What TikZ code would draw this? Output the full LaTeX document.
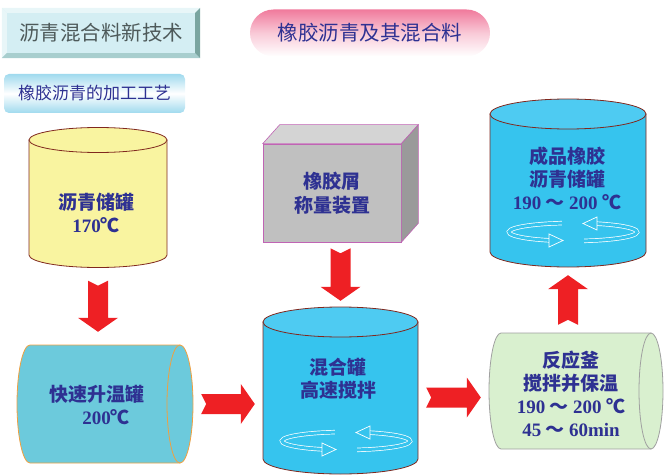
\documentclass[tikz,border=0pt]{standalone}
\usepackage{fontspec}
\setmainfont{Noto Sans CJK SC}
\newfontfamily\numfont{Liberation Serif}
\usetikzlibrary{calc, positioning}

\definecolor{textblue}{RGB}{46,49,146}
\definecolor{titlegray}{RGB}{78,90,90}
\definecolor{arrowred}{RGB}{238,32,36}
\definecolor{tankyellow}{RGB}{249,244,160}
\definecolor{tankedge}{RGB}{128,40,30}
\definecolor{tankblue}{RGB}{54,196,238}
\definecolor{tanktop}{RGB}{78,203,242}
\definecolor{heaterblue}{RGB}{108,202,220}
\definecolor{heateredge}{RGB}{240,160,64}
\definecolor{reactorgreen}{RGB}{217,240,207}
\definecolor{reactoredge}{RGB}{160,160,160}
\definecolor{boxfront}{RGB}{192,192,192}
\definecolor{boxtop}{RGB}{212,212,212}
\definecolor{boxside}{RGB}{154,154,154}
\definecolor{boxedge}{RGB}{192,100,180}
\definecolor{titlecyan}{RGB}{212,238,243}
\definecolor{bevellight}{RGB}{232,246,248}
\definecolor{beveldark}{RGB}{122,165,160}
\definecolor{bevelbottom}{RGB}{168,206,206}
\definecolor{capsulepink}{RGB}{240,122,156}
\definecolor{ribboncyan}{RGB}{160,218,238}

% upright tank: name, x, top y, bottom y, rx, ry, style, top fill
\newcommand{\uprighttank}[8]{%
  \filldraw[#7] (#2-#5,#3) -- (#2-#5,#4)
    arc[start angle=180, end angle=0, x radius=#5, y radius=#6] -- (#2+#5,#3) -- cycle;
  \filldraw[#7, fill=#8] (#2,#3) ellipse[x radius=#5, y radius=#6];
  \node[inner sep=0pt, minimum width=2*#5, minimum height=#4-#3+2*#6] (#1) at (#2,{(#3+#4)/2}) {};
}
% lying tank: name, left x, right x, y, rx, ry, style
\newcommand{\lyingtank}[7]{%
  \filldraw[#7] (#3,#4-#6) -- (#2,#4-#6)
    arc[start angle=270, end angle=90, x radius=#5, y radius=#6] -- (#3,#4+#6) -- cycle;
  \filldraw[#7] (#3,#4) ellipse[x radius=#5, y radius=#6];
  \node[inner sep=0pt, minimum width=#3-#2+2*#5, minimum height=2*#6] (#1) at ({(#2+#3)/2},#4) {};
}
% fat red arrow with notched tail: [gap] from, to
\newcommand{\blockarrow}[3][10pt]{%
  \coordinate (ba-s) at ($(#2)!#1!(#3)$);
  \coordinate (ba-e) at ($(#3)!#1!(#2)$);
  \coordinate (ba-h) at ($(ba-e)!14pt!(ba-s)$);
  \coordinate (ba-n) at ($(ba-s)!5pt!(ba-e)$);
  \fill[arrowred] ($(ba-s)!10pt!90:(ba-e)$) -- ($(ba-h)!10pt!90:(ba-e)$)
    -- ($(ba-h)!20pt!90:(ba-e)$) -- (ba-e) -- ($(ba-h)!20pt!-90:(ba-e)$)
    -- ($(ba-h)!10pt!-90:(ba-e)$) -- ($(ba-s)!10pt!-90:(ba-e)$) -- (ba-n) -- cycle;
}

\begin{document}
\begin{tikzpicture}[x=1pt, y=-1pt,
    tanktext/.style={text=textblue, font=\fontsize{19}{23}\selectfont\bfseries, align=center},
    yellowtank/.style={fill=tankyellow, draw=tankedge, line width=0.8pt},
    bluetank/.style={fill=tankblue, draw=tankedge, line width=0.8pt},
    heatertank/.style={fill=heaterblue, draw=heateredge, line width=0.8pt},
    reactortank/.style={fill=reactorgreen, draw=reactoredge, line width=0.8pt},
    crumbbox/.style={fill=boxfront, draw=boxedge, line width=0.6pt, minimum width=138pt,
        minimum height=98pt, inner sep=0pt, text=textblue,
        font=\fontsize{19}{24}\selectfont\bfseries, align=center},
    titlebox/.style={fill=titlecyan, minimum width=198pt, minimum height=50pt, inner sep=0pt,
        text=titlegray, font=\fontsize{20.5}{24}\selectfont},
    capsule/.style={rounded corners=23.5pt, minimum width=240pt, minimum height=47pt,
        top color=capsulepink, bottom color=white, middle color=capsulepink!40,
        text=textblue, font=\fontsize{20.5}{24}\selectfont},
    stepbox/.style={rounded corners=5pt, minimum width=181pt, minimum height=39pt,
        top color=ribboncyan, bottom color=ribboncyan, middle color=white,
        text=textblue, font=\fontsize{17}{20}\selectfont},
    ring/.style={draw=white, line width=0.7pt, double=tankblue, double distance=3pt},
    stir/.pic={
      \draw[ring] (260:64 and 9) arc[start angle=260, end angle=112, x radius=64, y radius=9];
      \draw[ring] (80:64 and 9) arc[start angle=80, end angle=-68, x radius=64, y radius=9];
      \filldraw[draw=white, fill=tankblue, line width=0.7pt] (-24,2) -- (-10,8.5) -- (-24,15) -- cycle;
      \filldraw[draw=white, fill=tankblue, line width=0.7pt] (24,-15) -- (10,-8.5) -- (24,-2) -- cycle;
    }
]
\useasboundingbox (0,0) rectangle (669,476);

% headings
\node[titlebox] (title) at (101,33) {沥青混合料新技术};
\fill[bevellight] (title.north west) -- (title.north east) -- ([shift={(-5,5)}]title.north east)
  -- ([shift={(5,5)}]title.north west) -- cycle;
\fill[bevellight] (title.north west) -- (title.south west) -- ([shift={(5,-5)}]title.south west)
  -- ([shift={(5,5)}]title.north west) -- cycle;
\fill[bevelbottom] (title.south west) -- (title.south east) -- ([shift={(-5,-5)}]title.south east)
  -- ([shift={(5,-5)}]title.south west) -- cycle;
\fill[beveldark] (title.north east) -- (title.south east) -- ([shift={(-5,-5)}]title.south east)
  -- ([shift={(-5,5)}]title.north east) -- cycle;
\node[capsule] (topic) at (370,33) {橡胶沥青及其混合料};
\node[stepbox] (process) at (94.5,93.5) {橡胶沥青的加工工艺};

% tanks
\uprighttank{tank}{98}{140}{255}{69}{12.5}{yellowtank}{tankyellow}
\node[tanktext] (tanklabel) at (96,213) {沥青储罐\\{\numfont 170}℃};

\lyingtank{heater}{30}{180}{404}{13}{59}{heatertank}
\node[tanktext] (heaterlabel) at (97,405) {快速升温罐\\\hspace*{18pt}{\numfont 200}℃};

\node[crumbbox] (scale) at (332,193) {橡胶屑\\称量装置};
\filldraw[fill=boxtop, draw=boxedge, line width=0.6pt] (scale.north west) -- ++(17,-19)
  -- ([shift={(17,-19)}]scale.north east) -- (scale.north east) -- cycle;
\filldraw[fill=boxside, draw=boxedge, line width=0.6pt] (scale.north east)
  -- ([shift={(17,-19)}]scale.north east) -- ([shift={(17,-19)}]scale.south east)
  -- (scale.south east) -- cycle;

\uprighttank{mixer}{340.5}{322}{459}{77.5}{15}{bluetank}{tanktop}
\node[tanktext] (mixerlabel) at (338,378.5) {混合罐\\高速搅拌};
\pic at (346,441) {stir};

\lyingtank{reactor}{501}{651}{391}{12}{58}{reactortank}
\node[tanktext] (reactorlabel) at (571,394) {反应釜\\搅拌并保温\\{\numfont 190} ～ {\numfont 200} ℃\\{\numfont 45} ～ {\numfont 60min}};

\uprighttank{product}{568}{114}{252}{78}{15}{bluetank}{tanktop}
\node[tanktext] (productlabel) at (567,178) {成品橡胶\\沥青储罐\\{\numfont 190} ～ {\numfont 200} ℃};
\pic at (573,232) {stir};

% flow
\blockarrow[13pt]{tank.south}{tank.south |- heater.north}
\blockarrow[6pt]{scale.south -| mixer.north}{mixer.north}
\blockarrow[8pt]{heater.east}{heater.east -| mixer.west}
\coordinate (mixout) at ([yshift=-7pt]mixer.east);
\blockarrow[8pt]{mixout}{mixout -| reactor.west}
\blockarrow[8pt]{product.south |- reactor.north}{product.south}

\end{tikzpicture}
\end{document}
